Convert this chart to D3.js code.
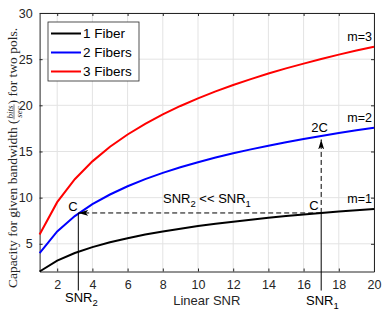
<!DOCTYPE html>
<html>
<head>
<meta charset="utf-8">
<script src="https://cdn.jsdelivr.net/npm/d3@7"></script>
<style>
  body { margin: 0; background: #fff; }
  svg { display: block; }
</style>
</head>
<body>
<svg id="chart"></svg>
<script>
// linear SNR values (x) and capacities
const snr = [1, 2, 3, 4, 5, 6, 7, 8, 9, 10, 11, 12, 13, 14, 15, 16, 17, 18, 19, 20];
const fiber1 = [2, 3.17, 4, 4.64, 5.17, 5.61, 6, 6.34, 6.64, 6.92, 7.17, 7.40, 7.61, 7.81, 8, 8.17, 8.34, 8.50, 8.64, 8.78];
const fiber2 = [4, 6.34, 8, 9.29, 10.34, 11.23, 12, 12.68, 13.29, 13.84, 14.34, 14.80, 15.23, 15.63, 16, 16.35, 16.68, 16.99, 17.29, 17.57];
const fiber3 = [6, 9.51, 12, 13.93, 15.51, 16.84, 18, 19.02, 19.93, 20.76, 21.51, 22.20, 22.84, 23.44, 24, 24.52, 25.02, 25.49, 25.93, 26.35];
const seriesNames = ["1 Fiber", "2 Fibers", "3 Fibers"];
const seriesColors = ["#000000", "#0000ff", "#ff0000"];
const curveLabels = ["m=1", "m=2", "m=3"];
const xTicks = [2, 4, 6, 8, 10, 12, 14, 16, 18, 20];
const yTicks = [5, 10, 15, 20, 25, 30];
// annotation points
const snr1 = 17, snr2 = 3.2;
const capC = 8.34, cap2C = 16.3;

const width = 382, height = 319;
const margin = { top: 13, right: 8, bottom: 47.5, left: 39.6 };

const svg = d3.select("#chart").attr("width", width).attr("height", height);

const xScale = d3.scaleLinear().domain([1, 20]).range([margin.left, width - margin.right]);
const yScale = d3.scaleLinear().domain([2, 30]).range([height - margin.bottom, margin.top]);
const x0 = xScale.range()[0], x1 = xScale.range()[1];
const y0 = yScale.range()[0], y1 = yScale.range()[1];

const sans = "'Liberation Sans', Arial, sans-serif";
const axisColor = "#262626";

// grid
const grid = svg.append("g").attr("class", "grid");
grid.selectAll(".gx").data(xTicks).enter().append("line")
	.attr("x1", d => xScale(d)).attr("x2", d => xScale(d))
	.attr("y1", y0).attr("y2", y1)
	.attr("stroke", "#e3e3e3").attr("stroke-width", 1);
grid.selectAll(".gy").data(yTicks).enter().append("line")
	.attr("x1", x0).attr("x2", x1)
	.attr("y1", d => yScale(d)).attr("y2", d => yScale(d))
	.attr("stroke", "#e3e3e3").attr("stroke-width", 1);

// axes (matlab style, ticks inside)
const xAxis = svg.append("g").attr("transform", "translate(0," + y0 + ")")
	.call(d3.axisBottom(xScale).tickValues(xTicks).tickSizeInner(-3).tickSizeOuter(0).tickPadding(9));
const yAxis = svg.append("g").attr("transform", "translate(" + x0 + ",0)")
	.call(d3.axisLeft(yScale).tickValues(yTicks).tickSizeInner(-3).tickSizeOuter(0).tickPadding(7));
const xAxisTop = svg.append("g").attr("transform", "translate(0," + y1 + ")")
	.call(d3.axisTop(xScale).tickValues(xTicks).tickSizeInner(-3).tickSizeOuter(0).tickFormat(""));
const yAxisRight = svg.append("g").attr("transform", "translate(" + x1 + ",0)")
	.call(d3.axisRight(yScale).tickValues(yTicks).tickSizeInner(-3).tickSizeOuter(0).tickFormat(""));
[xAxis, yAxis, xAxisTop, yAxisRight].forEach(function(a) {
	a.selectAll("path").attr("stroke", axisColor);
	a.selectAll("line").attr("stroke", axisColor);
	a.selectAll("text").attr("fill", axisColor).style("font-family", sans).style("font-size", "12.5px");
});

// curves
const line = d3.line().x((d, i) => xScale(snr[i])).y(d => yScale(d));
const allSeries = [fiber1, fiber2, fiber3];
svg.selectAll(".curve").data(allSeries).enter().append("path")
	.attr("class", "curve")
	.attr("d", d => line(d))
	.attr("fill", "none")
	.attr("stroke", (d, i) => seriesColors[i])
	.attr("stroke-width", 2);

// curve labels
svg.selectAll(".mlabel").data(allSeries).enter().append("text")
	.attr("x", xScale(20) - 2)
	.attr("y", d => yScale(d[d.length - 1]) - 6)
	.attr("text-anchor", "end")
	.style("font-family", sans).style("font-size", "12.5px")
	.text((d, i) => curveLabels[i]);

// arrow marker
const defs = svg.append("defs");
defs.append("marker").attr("id", "arrow")
	.attr("viewBox", "0 0 10 10").attr("refX", 10).attr("refY", 5)
	.attr("markerWidth", 10).attr("markerHeight", 10).attr("markerUnits", "userSpaceOnUse")
	.attr("orient", "auto")
	.append("path").attr("d", "M0,2 L10,5 L0,8 L2.5,5 Z").attr("fill", "#000");

// annotations
const ann = svg.append("g");
ann.append("line")
	.attr("x1", xScale(snr2)).attr("x2", xScale(snr2))
	.attr("y1", yScale(capC)).attr("y2", y0 + 19)
	.attr("stroke", "#000").attr("stroke-width", 1);
ann.append("line")
	.attr("x1", xScale(snr1)).attr("x2", xScale(snr1))
	.attr("y1", yScale(capC)).attr("y2", y0 + 19)
	.attr("stroke", "#000").attr("stroke-width", 1);
ann.append("line")
	.attr("x1", xScale(snr1)).attr("x2", xScale(snr2))
	.attr("y1", yScale(capC)).attr("y2", yScale(capC))
	.attr("stroke", "#000").attr("stroke-width", 1).attr("stroke-dasharray", "5,3")
	.attr("marker-end", "url(#arrow)");
ann.append("line")
	.attr("x1", xScale(snr1)).attr("x2", xScale(snr1))
	.attr("y1", yScale(capC)).attr("y2", yScale(cap2C))
	.attr("stroke", "#000").attr("stroke-width", 1).attr("stroke-dasharray", "5,3")
	.attr("marker-end", "url(#arrow)");

function label(x, y, parts, anchor) {
	const t = ann.append("text").attr("x", x).attr("y", y)
		.attr("text-anchor", anchor || "start")
		.style("font-family", sans).style("font-size", "13px");
	parts.forEach(function(p) {
		if (p.sub) {
			t.append("tspan").attr("dy", 4).style("font-size", "9.5px").text(p.t);
		} else {
			t.append("tspan").attr("dy", p.reset ? -4 : 0).text(p.t);
		}
	});
	return t;
}
label(xScale(snr2) - 10, yScale(capC) - 2, [{ t: "C" }]);
label(xScale(snr1) - 12, yScale(capC) - 3, [{ t: "C" }]);
label(xScale(snr1) - 10, yScale(cap2C) - 7, [{ t: "2C" }]);
label(163, 203, [{ t: "SNR" }, { t: "2", sub: true }, { t: " << SNR", reset: true }, { t: "1", sub: true }]);
label(65, 302, [{ t: "SNR" }, { t: "2", sub: true }]);
label(306, 305, [{ t: "SNR" }, { t: "1", sub: true }]);
label((x0 + x1) / 2, 305, [{ t: "Linear SNR" }], "middle").attr("fill", axisColor);

// legend
const legend = svg.append("g").attr("transform", "translate(48,22)");
legend.append("rect").attr("width", 91).attr("height", 59)
	.attr("fill", "#fff").attr("stroke", "#262626").attr("stroke-width", 0.8);
seriesNames.forEach(function(name, i) {
	const ly = 11.5 + i * 19;
	legend.append("line").attr("x1", 3).attr("x2", 33).attr("y1", ly).attr("y2", ly)
		.attr("stroke", seriesColors[i]).attr("stroke-width", 2);
	legend.append("text").attr("x", 35).attr("y", ly + 4.5)
		.style("font-family", sans).style("font-size", "13.5px").text(name);
});

// y label with fraction
const yl = svg.append("g").attr("transform", "translate(17,158) rotate(-90)");
const serif = "'Liberation Serif', 'Times New Roman', serif";
const p1 = yl.append("text").attr("x", 0).attr("y", 0)
	.style("font-family", serif).style("font-size", "13.5px").attr("fill", axisColor)
	.text("Capacity for given bandwidth (");
const w1 = p1.node().getComputedTextLength();
const num = yl.append("text").attr("y", -4.5).attr("text-anchor", "middle")
	.style("font-family", serif).style("font-size", "9px").style("font-style", "italic").attr("fill", axisColor)
	.text("bits");
const den = yl.append("text").attr("y", 4.5).attr("text-anchor", "middle")
	.style("font-family", serif).style("font-size", "9px").style("font-style", "italic").attr("fill", axisColor)
	.text("sec");
const wf = Math.max(num.node().getComputedTextLength(), den.node().getComputedTextLength()) + 2;
num.attr("x", w1 + wf / 2);
den.attr("x", w1 + wf / 2);
yl.append("line").attr("x1", w1).attr("x2", w1 + wf).attr("y1", -3).attr("y2", -3)
	.attr("stroke", axisColor).attr("stroke-width", 0.6);
const p3 = yl.append("text").attr("x", w1 + wf).attr("y", 0)
	.style("font-family", serif).style("font-size", "13.5px").attr("fill", axisColor)
	.text(") for two pols.");
const total = w1 + wf + p3.node().getComputedTextLength();
yl.selectAll("*").attr("transform", "translate(" + (-total / 2) + ",0)");
</script>
</body>
</html>
